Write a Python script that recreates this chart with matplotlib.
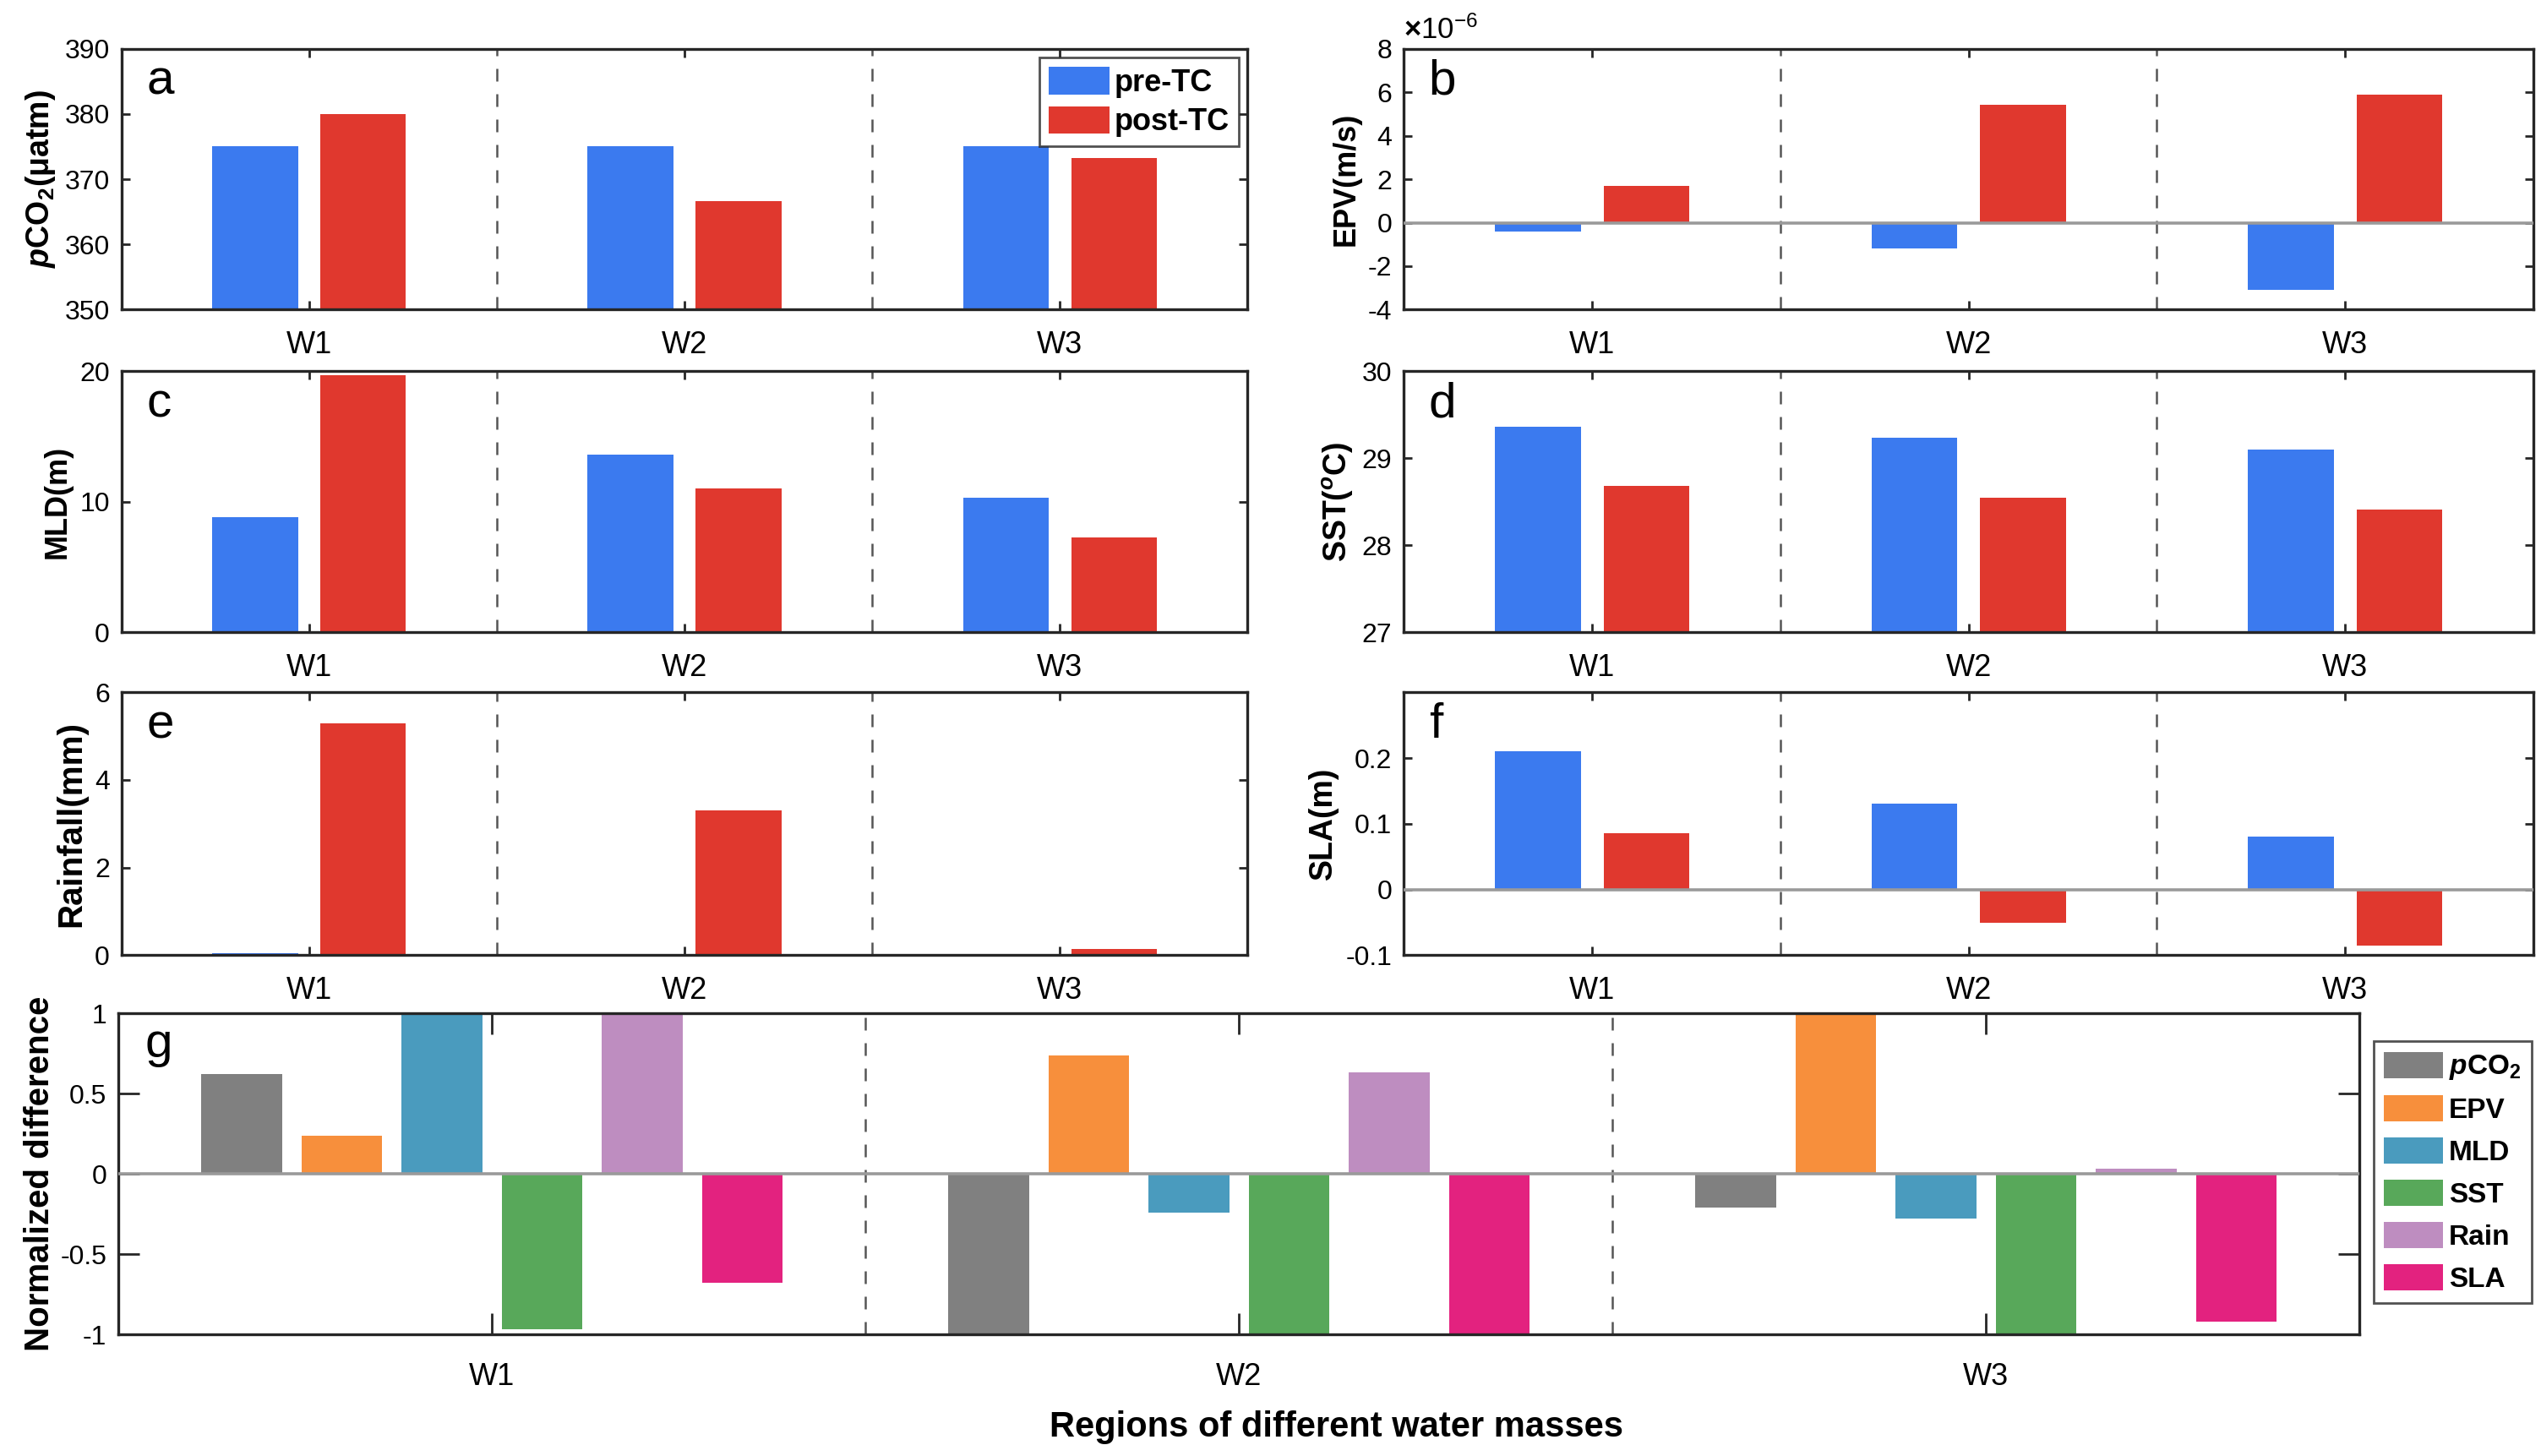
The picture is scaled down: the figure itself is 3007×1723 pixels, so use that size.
import numpy as np
import matplotlib
matplotlib.use("Agg")
import matplotlib.pyplot as plt

plt.rcParams['font.family'] = ['Liberation Sans', 'DejaVu Sans']
plt.rcParams['axes.unicode_minus'] = False
plt.rcParams['mathtext.fontset'] = 'custom'
plt.rcParams['mathtext.rm'] = 'Liberation Sans:bold'
plt.rcParams['mathtext.it'] = 'Liberation Sans:italic:bold'
plt.rcParams['mathtext.bf'] = 'Liberation Sans:bold'

# Data
regions = ['W1', 'W2', 'W3']
pco2_pre = [375.0, 375.0, 375.0]
pco2_post = [380.0, 366.7, 373.2]
epv_pre = [-0.4, -1.2, -3.1]      # x 1e-6 m/s
epv_post = [1.7, 5.4, 5.9]
mld_pre = [8.8, 13.6, 10.3]
mld_post = [19.7, 11.0, 7.3]
sst_pre = [29.36, 29.24, 29.10]
sst_post = [28.68, 28.55, 28.41]
rain_pre = [0.05, 0.0, 0.0]
rain_post = [5.3, 3.3, 0.15]
sla_pre = [0.21, 0.13, 0.08]
sla_post = [0.086, -0.051, -0.085]

norm_vars = ['pCO2', 'EPV', 'MLD', 'SST', 'Rain', 'SLA']
norm_labels = [r'$\it{p}$CO$_2$', 'EPV', 'MLD', 'SST', 'Rain', 'SLA']
norm_diff = {
    'pCO2': [0.62, -1.0, -0.21],
    'EPV': [0.24, 0.74, 1.0],
    'MLD': [1.0, -0.24, -0.28],
    'SST': [-0.97, -1.0, -1.0],
    'Rain': [1.0, 0.63, 0.03],
    'SLA': [-0.68, -1.0, -0.92],
}
norm_colors = ['#808080', '#F78F3C', '#4A9BBE', '#58A85A', '#BE8DC0', '#E3227F']

c_pre = '#3B7AEF'
c_post = '#E0382E'
spine_c = '#262626'

fig = plt.figure(figsize=(15.035, 8.615), dpi=200)

xl, xw = 0.0478, 0.4432
xr, xrw = 0.5525, 0.4445
rows = [(0.7873, 0.1793), (0.5657, 0.1793), (0.3440, 0.1805)]

panels = [
    ('a', pco2_pre, pco2_post, (350, 390), [350, 360, 370, 380, 390], r'$\it{p}$CO$_2$($\mathbf{\mu}$atm)', 13.5, False),
    ('b', epv_pre, epv_post, (-4, 8), [-4, -2, 0, 2, 4, 6, 8], 'EPV(m/s)', 13, True),
    ('c', mld_pre, mld_post, (0, 20), [0, 10, 20], 'MLD(m)', 13, False),
    ('d', sst_pre, sst_post, (27, 30), [27, 28, 29, 30], r'SST($^{o}$C)', 13.5, False),
    ('e', rain_pre, rain_post, (0, 6), [0, 2, 4, 6], 'Rainfall(mm)', 14.5, False),
    ('f', sla_pre, sla_post, (-0.1, 0.3), [-0.1, 0, 0.1, 0.2], 'SLA(m)', 13.5, True),
]

x = np.arange(1, 4)


def style_axes(ax, ticklen, xpad):
    for s in ax.spines.values():
        s.set_color(spine_c)
        s.set_linewidth(1.2)
    ax.tick_params(direction='in', top=True, right=True, length=ticklen,
                   width=1.0, color=spine_c)
    ax.tick_params(axis='y', labelsize=11.5, pad=5)
    ax.tick_params(axis='x', labelsize=13, pad=xpad)
    ax.set_xticks(x)
    ax.set_xticklabels(regions)
    ax.set_xlim(0.5, 3.5)
    for xv in [1.5, 2.5]:
        ax.axvline(xv, color='#555555', lw=0.9, ls=(0, (6, 6)), zorder=1)


for i, (letter, pre, post, ylim, yticks, ylab, ysize, zline) in enumerate(panels):
    bottom, height = rows[i // 2]
    left, width = (xl, xw) if i % 2 == 0 else (xr, xrw)
    ax = fig.add_axes([left, bottom, width, height])
    base = 0 if zline else ylim[0]
    ax.bar(x - 0.144, np.array(pre) - base, width=0.228, bottom=base, color=c_pre, zorder=2, label='pre-TC')
    ax.bar(x + 0.144, np.array(post) - base, width=0.228, bottom=base, color=c_post, zorder=2, label='post-TC')
    if zline:
        ax.axhline(0, color='#9a9a9a', lw=1.3, zorder=3)
    ax.set_ylim(*ylim)
    ax.set_yticks(yticks)
    if letter == 'f':
        ax.set_yticklabels(['-0.1', '0', '0.1', '0.2'])
    style_axes(ax, 3.5, 9)
    ax.set_ylabel(ylab, fontsize=ysize, fontweight='bold', labelpad=3)
    ax.text(0.022, 0.826, letter, transform=ax.transAxes, fontsize=21, va='baseline', ha='left')
    if letter == 'b':
        ax.text(0.0, 1.015, r'$\times\mathdefault{10^{-6}}$', transform=ax.transAxes,
                fontsize=12.5, ha='left', va='bottom')
    if letter == 'a':
        leg = ax.legend(loc='upper right', frameon=True, fancybox=False,
                        edgecolor=spine_c, borderaxespad=0.3, handlelength=2.0,
                        handleheight=1.0, handletextpad=0.15, labelspacing=0.28,
                        borderpad=0.3, prop={'weight': 'bold', 'size': 13})
        leg.get_frame().set_linewidth(1.0)

# Panel g
axg = fig.add_axes([0.0466, 0.0835, 0.8820, 0.2205])
offsets = (np.arange(6) - 2.5) * 0.134
handles = []
for j, var in enumerate(norm_vars):
    h = axg.bar(x + offsets[j], norm_diff[var], width=0.108, color=norm_colors[j], zorder=2)
    handles.append(h)
axg.axhline(0, color='#9a9a9a', lw=1.3, zorder=3)
axg.set_ylim(-1, 1)
axg.set_yticks([-1, -0.5, 0, 0.5, 1])
axg.set_yticklabels(['-1', '-0.5', '0', '0.5', '1'])
style_axes(axg, 9, 12)
axg.set_ylabel('Normalized difference', fontsize=14.5, fontweight='bold', labelpad=2)
axg.text(0.012, 0.864, 'g', transform=axg.transAxes, fontsize=21, va='baseline', ha='left')

legg = fig.legend(handles, norm_labels, loc='upper left', bbox_to_anchor=(0.934, 0.285),
                  frameon=True, fancybox=False, edgecolor=spine_c, handlelength=2.1,
                  handleheight=1.05, handletextpad=0.2, labelspacing=0.48, borderpad=0.38,
                  borderaxespad=0, prop={'weight': 'bold', 'size': 12})
legg.get_frame().set_linewidth(1.0)

fig.text(0.526, 0.02, 'Regions of different water masses', fontsize=15, fontweight='bold',
         ha='center', va='center')

fig.savefig('out.png', dpi=200, facecolor='white')
